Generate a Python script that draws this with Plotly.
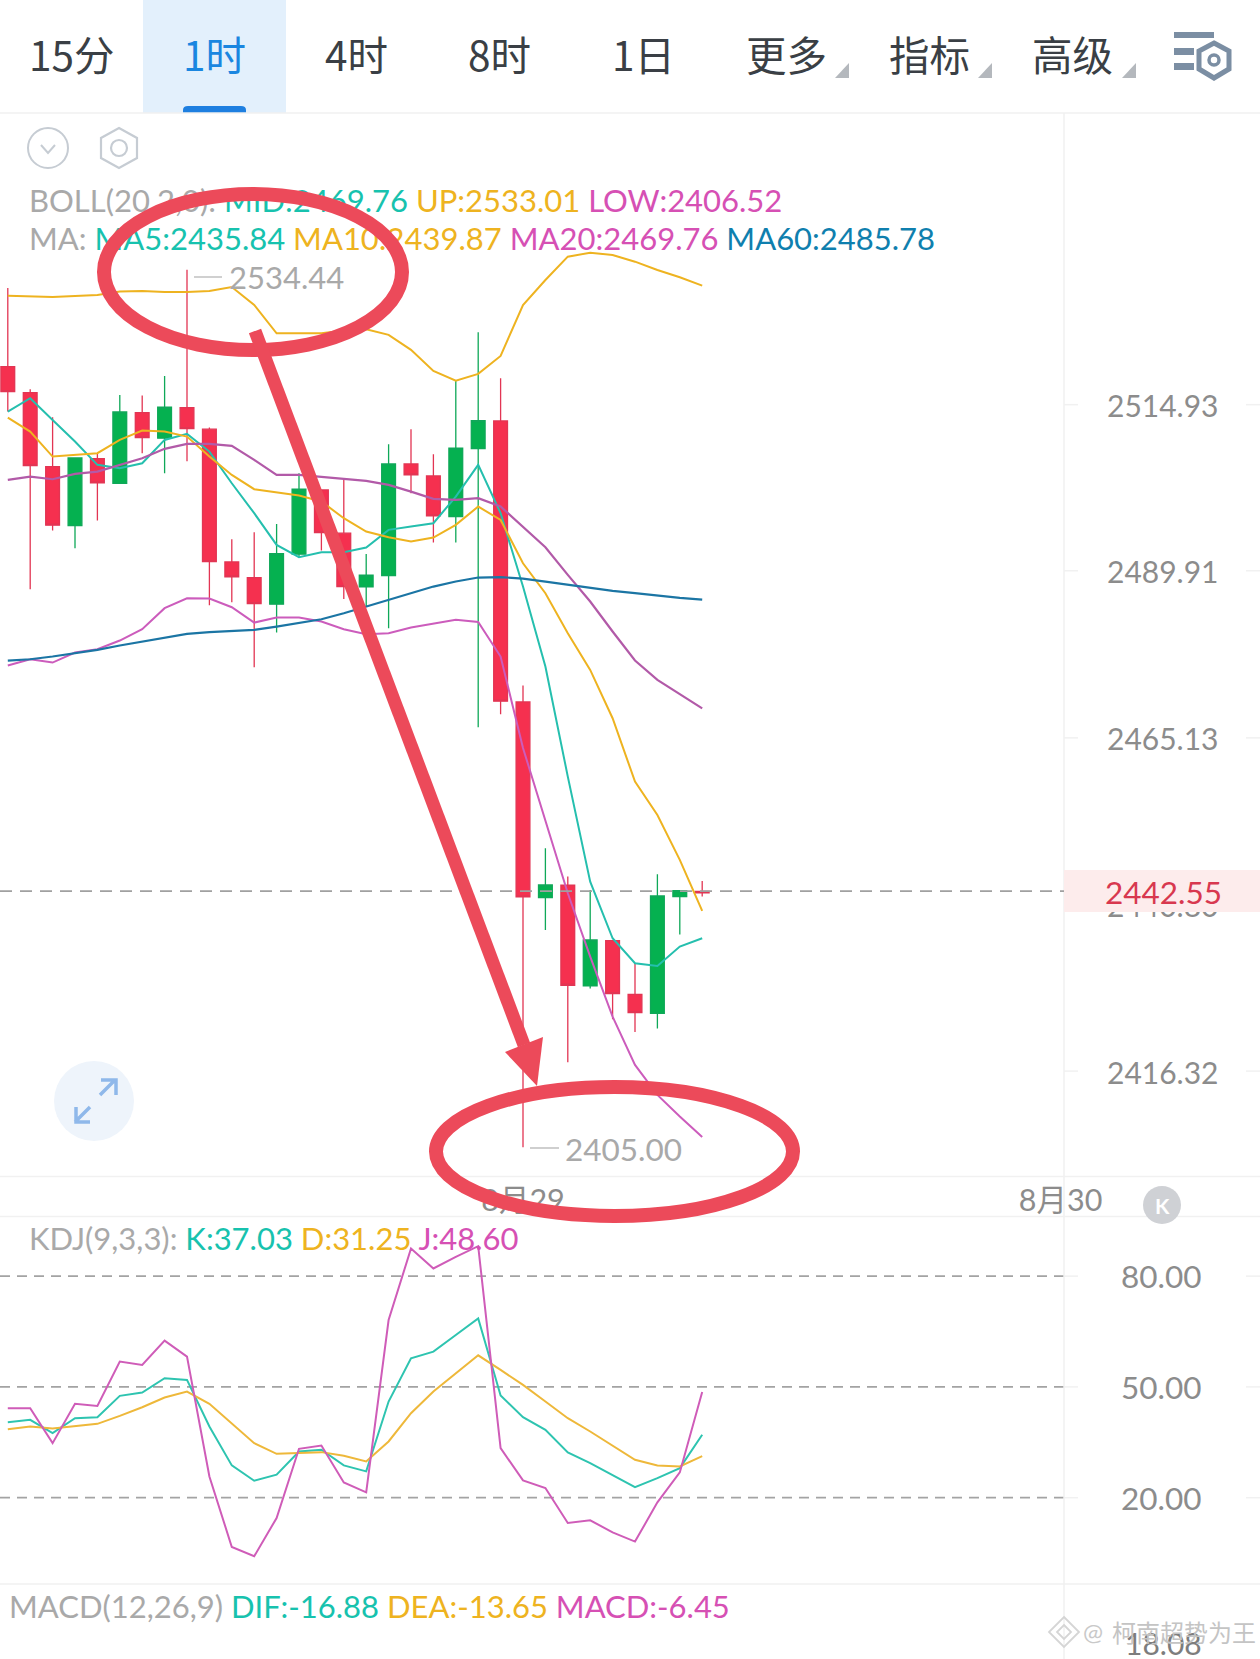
import plotly.graph_objects as go

W, H = 1260, 1659

# ---------- data ----------
opens = [2520.17,2516.33,2505.42,2496.72,2506.60,2502.96,2513.38,2509.60,2514.12,2510.93,2491.36,2489.05,2485.12,2492.49,2501.98,2495.59,
         2487.67,2489.34,2505.81,2504.04,2498.04,2508.07,2512.15,2470.71,2441.84,2443.66,2428.81,2435.50,2427.58,2424.78,2441.99,2442.75]
highs = [2531.77,2516.82,2512.70,2506.70,2507.29,2515.99,2515.89,2518.79,2534.44,2511.17,2494.70,2495.74,2496.96,2504.44,2501.98,2503.45,
         2492.54,2508.71,2510.93,2507.24,2518.10,2525.23,2518.45,2473.12,2449.12,2444.94,2442.97,2435.50,2432.16,2445.28,2442.97,2444.30]
lows = [2513.53,2487.33,2495.98,2493.37,2497.46,2502.96,2507.39,2504.44,2506.20,2484.97,2485.41,2475.83,2480.94,2492.15,2493.03,2485.90,
        2484.77,2481.58,2501.49,2494.21,2494.21,2466.97,2468.89,2405.00,2437.07,2417.56,2428.42,2423.90,2422.03,2422.52,2436.39,2441.99]
closes = [2516.48,2505.57,2496.77,2506.70,2503.01,2513.48,2509.70,2514.17,2511.02,2491.41,2489.15,2485.21,2492.59,2502.08,2495.69,2487.72,
          2489.39,2505.81,2504.19,2498.14,2508.12,2512.20,2470.81,2441.94,2443.71,2428.91,2435.60,2427.68,2424.88,2442.09,2442.87,2442.55]
ma5 = [2513.53,2515.50,2512.30,2509.11,2505.67,2505.17,2505.91,2509.35,2510.24,2507.63,2502.96,2498.54,2493.87,2492.05,2492.79,2492.79,
       2493.47,2496.08,2496.57,2497.06,2501.00,2505.67,2498.54,2487.72,2475.92,2459.69,2444.20,2435.84,2432.16,2431.76,2434.62,2435.84]
ma10 = [2512.65,2510.58,2506.89,2507.14,2507.39,2509.35,2510.73,2510.58,2509.84,2506.89,2504.19,2502.08,2501.63,2501.14,2500.26,2497.80,
        2495.83,2495.00,2494.36,2494.95,2496.82,2499.52,2497.55,2491.16,2486.74,2480.84,2475.43,2468.30,2458.95,2454.03,2447.40,2439.87]
ma20 = [2503.45,2503.94,2503.55,2504.34,2504.68,2505.67,2506.65,2508.03,2508.76,2508.76,2508.47,2506.40,2504.19,2504.19,2503.94,2503.60,
        2503.31,2502.72,2501.73,2500.65,2500.50,2500.75,2499.52,2496.57,2493.52,2489.44,2485.51,2481.09,2476.81,2473.96,2471.89,2469.76]
ma60 = [2476.81,2477.00,2477.40,2477.89,2478.38,2479.02,2479.61,2480.10,2480.74,2480.99,2481.14,2481.33,2481.82,2482.31,2482.90,2483.79,
        2484.77,2485.75,2486.74,2487.72,2488.46,2489.05,2489.10,2488.90,2488.46,2487.97,2487.48,2487.08,2486.74,2486.35,2486.05,2485.78]
boll_up = [2530.62,2530.51,2530.43,2530.58,2530.73,2531.24,2531.32,2531.17,2531.17,2531.32,2531.91,2529.26,2525.08,2525.08,2525.08,2525.48,
           2525.67,2524.84,2522.63,2519.53,2518.10,2519.09,2521.74,2529.25,2532.94,2536.38,2536.97,2536.63,2535.64,2534.42,2533.34,2532.10]
boll_low = [2476.07,2477.00,2476.51,2477.99,2478.48,2479.76,2481.43,2484.53,2486.00,2485.95,2484.67,2482.41,2483.15,2483.15,2482.56,2481.43,
            2480.69,2480.84,2481.68,2482.22,2482.81,2482.51,2477.40,2463.91,2453.30,2442.48,2433.14,2424.29,2417.16,2412.74,2409.55,2406.52]
kdj_k = [40.45,41.08,37.48,41.53,41.80,47.57,48.47,52.34,51.89,39.28,28.74,24.59,26.22,32.52,32.97,28.74,
         27.12,46.04,57.75,59.55,64.05,68.56,47.66,41.80,38.38,32.25,29.37,26.04,22.88,25.31,28.02,37.03]
kdj_d = [38.56,39.28,38.74,39.28,40.00,42.16,44.50,47.12,48.74,45.41,40.00,34.77,31.89,32.07,32.34,31.35,
         29.82,35.22,42.88,48.74,53.69,58.56,54.59,50.54,46.04,41.53,37.93,34.05,30.27,28.74,28.47,31.25]
kdj_j = [44.23,44.23,34.77,45.41,44.86,56.85,55.95,62.52,58.20,25.76,6.66,4.14,14.50,33.24,34.14,24.14,
         21.44,68.11,87.48,82.07,85.22,88.11,33.42,24.68,22.61,13.15,13.87,10.63,8.11,18.74,26.85,48.60]

bars = list(range(len(closes)))
price_ticks = [2514.55, 2490.05, 2465.40, 2440.80, 2416.25]
price_tick_text = ["2514.93", "2489.91", "2465.13", "2440.80", "2416.32"]
kdj_ticks = [80, 50, 20]
kdj_tick_text = ["80.00", "50.00", "20.00"]
date_ticks = [23, 47]
date_text = ["8月29", "8月30"]
tabs = ["15分", "1时", "4时", "8时", "1日", "更多", "指标", "高级"]
tab_x = [71, 214, 356, 499, 643, 786, 929, 1072]
last_line = 2442.80

# ---------- style ----------
FONT = "Lato, 'Noto Sans CJK SC', sans-serif"
CJK = "'Noto Sans CJK SC', sans-serif"
TEAL, GOLD, PINK, BLUE, GRAY = "#17c2ae", "#eeb320", "#d650b4", "#0f7fae", "#a9a9a9"
RED, GREEN, RINGRED = "#f5304f", "#05b150", "#ec4a5a"
LIGHT = "#f1f1f1"
XR = [-0.348, 55.902]


def span(c, t):
    return f'<span style="color:{c}">{t}</span>'


fig = go.Figure()
fig.add_trace(go.Candlestick(
    x=bars, open=opens, high=highs, low=lows, close=closes, xaxis="x", yaxis="y",
    increasing=dict(line=dict(color="#0fa858", width=1.3), fillcolor=GREEN),
    decreasing=dict(line=dict(color="#e23553", width=1.3), fillcolor=RED),
    whiskerwidth=0, hoverinfo="skip", showlegend=False))

for vals, col, wd in [(boll_up, GOLD, 2), (boll_low, "#cc5cbc", 2),
                      (ma5, "#25bfae", 2), (ma10, GOLD, 2), (ma20, "#b25aa8", 2.2), (ma60, "#1b75a4", 2.2)]:
    fig.add_trace(go.Scatter(x=bars, y=vals, mode="lines", line=dict(color=col, width=wd),
                             xaxis="x", yaxis="y", hoverinfo="skip", showlegend=False))
for vals, col in [(kdj_k, "#2ec4b0"), (kdj_d, "#eeb83a"), (kdj_j, "#cf5cb8")]:
    fig.add_trace(go.Scatter(x=bars, y=vals, mode="lines", line=dict(color=col, width=2),
                             xaxis="x2", yaxis="y2", hoverinfo="skip", showlegend=False))

legend_rows = [
    (29, 204, span(GRAY, "BOLL(20,2,0): ") + span(TEAL, "MID:2469.76 ") + span(GOLD, "UP:2533.01 ") + span(PINK, "LOW:2406.52")),
    (29, 242, span(GRAY, "MA: ") + span(TEAL, "MA5:2435.84 ") + span(GOLD, "MA10:2439.87 ") + span(PINK, "MA20:2469.76 ") + span(BLUE, "MA60:2485.78")),
    (29, 1242, span(GRAY, "KDJ(9,3,3): ") + span(TEAL, "K:37.03 ") + span(GOLD, "D:31.25 ") + span(PINK, "J:48.60")),
    (9, 1610, span(GRAY, "MACD(12,26,9) ") + span(TEAL, "DIF:-16.88 ") + span(GOLD, "DEA:-13.65 ") + span(PINK, "MACD:-6.45")),
]
fig.add_trace(go.Scatter(
    x=[r[0] for r in legend_rows], y=[r[1] for r in legend_rows], text=[r[2] for r in legend_rows],
    mode="text", textposition="middle right", textfont=dict(family=FONT, size=31, color=GRAY),
    xaxis="x3", yaxis="y3", hoverinfo="skip", showlegend=False, cliponaxis=False))

shapes = []


def box(x0, y0, x1, y1, fill, layer="below", rad=None):
    shapes.append(dict(type="rect", xref="x3", yref="y3", x0=x0, y0=y0, x1=x1, y1=y1,
                       fillcolor=fill, line=dict(width=0), layer=layer))


def seg(x0, y0, x1, y1, col=LIGHT, w=1.5, layer="below", dash=None, xref="x3", yref="y3"):
    line = dict(color=col, width=w)
    if dash:
        line["dash"] = dash
    shapes.append(dict(type="line", xref=xref, yref=yref, x0=x0, y0=y0, x1=x1, y1=y1, line=line, layer=layer))


def poly(path, fill=None, col=None, w=0, layer="above"):
    shapes.append(dict(type="path", xref="x3", yref="y3", path=path, fillcolor=fill or "rgba(0,0,0,0)",
                       line=dict(color=col or "rgba(0,0,0,0)", width=w), layer=layer))


def ring(x0, y0, x1, y1, col, w, fill=None, layer="above"):
    shapes.append(dict(type="circle", xref="x3", yref="y3", x0=x0, y0=y0, x1=x1, y1=y1,
                       line=dict(color=col, width=w), fillcolor=fill or "rgba(0,0,0,0)", layer=layer))


# header
box(143, 0, 286, 113, "#e3f0fc")
shapes.append(dict(type="path", xref="x3", yref="y3", path="M183,113 L183,110 Q183,106 188,106 L241,106 Q246,106 246,110 L246,113 Z",
                   fillcolor="#1e7fe0", line=dict(width=0), layer="below"))
for tx in (842, 985, 1129):
    poly(f"M{tx-7},78 L{tx+7},78 L{tx+7},63 Z", fill="#b4b8bd")
for x0, y0, x1, y1 in [(1174, 32, 1214, 38), (1174, 48, 1194, 55), (1174, 63, 1194, 70)]:
    box(x0, y0, x1, y1, "#7b8ea3", layer="above")
poly("M1214,43 L1229,51 L1229,69 L1214,78 L1199,69 L1199,51 Z", col="#7b8ea3", w=5)
ring(1209, 55, 1219, 65, "#7b8ea3", 3.5)

# separators
seg(0, 113, W, 113)
seg(0, 1176.5, W, 1176.5)
seg(0, 1216.5, W, 1216.5)
seg(0, 1584, W, 1584)
seg(1064, 113, 1064, H)

# side tick marks
for v in price_ticks:
    seg(1064, v, 1078, v, xref="x3", yref="y")
    seg(1246, v, W, v, xref="x3", yref="y")
for v in kdj_ticks:
    seg(0, v, 1064, v, col="#a3a3a3", w=1.8, dash="10px,7px", yref="y2")
    seg(1064, v, 1078, v, yref="y2")
    seg(1246, v, W, v, yref="y2")

# small icons
ring(28, 128, 68, 168, "#c6ccd3", 2)
poly("M41,145 L48,153 L55,145", col="#c6ccd3", w=2)
poly("M119,128 L137,138 L137,158 L119,168 L101,158 L101,138 Z", col="#c6ccd3", w=2.2)
ring(111, 140, 127, 156, "#c6ccd3", 2.2)

# expand button
ring(54, 1061, 134, 1141, "#eef4fb", 0, fill="#eef4fb", layer="below")
poly("M100,1095 L115,1080 M101,1080 L116,1080 L116,1095", col="#8fb8ea", w=3.5)
poly("M90,1107 L75,1122 M76,1107 L76,1122 L90,1122", col="#8fb8ea", w=3.5)

# K button
ring(1143, 1186, 1181, 1224, "#cfd1d5", 0, fill="#cfd1d5")

# last price
box(1064, 870, W, 912, "#fdecec", layer="above")
seg(0, last_line, 1064, last_line, col="#a0a0a0", w=1.9, dash="12px,8px", layer="above", yref="y")

# min / max leader dashes
seg(194, 277, 222, 277, col="#c4c4c4", w=1.6, layer="above")
seg(530, 1148, 559, 1148, col="#c4c4c4", w=1.6, layer="above")

# hand-drawn red marks
ring(104, 194, 402, 350, RINGRED, 14)
ring(436, 1087, 793, 1216, RINGRED, 14)
seg(255, 331, 524, 1045, col=RINGRED, w=13, layer="above")
poly("M505,1052 L543,1037 L537,1086 Z", fill=RINGRED)

# watermark logo
poly("M1064,1617 L1079,1632 L1064,1647 L1049,1632 Z", col="#d5d5d5", w=1.8)
poly("M1064,1625 L1071,1632 L1064,1639 L1057,1632 Z", col="#d5d5d5", w=1.8)

anns = []


def text(x, y, t, size=29, col="#8c8c8c", anchor="center", fam=FONT):
    anns.append(dict(xref="x3", yref="y3", x=x, y=y, text=t, showarrow=False, xanchor=anchor, yanchor="middle",
                     font=dict(family=fam, size=size, color=col)))


for t, x in zip(tabs, tab_x):
    text(x, 53, t, size=40.5, col="#1a86e0" if t == "1时" else "#3a3f45", fam=CJK)
text(227, 277, "2534.44", size=31, col="#a9a9a9", anchor="left")
text(563, 1149, "2405.00", size=31.5, col="#a9a9a9", anchor="left")
text(1163, 892, "2442.55", size=31.5, col="#d8384f")
text(1162, 1205, "<b>K</b>", size=21, col="#ffffff")
text(1163, 1643, "18.08", size=30, col="#7d7d7d")
text(1093, 1631, "@", size=24, col="#c9c9c9")
text(1110, 1631, "柯南超势为王", size=24, col="#c4c4c4", anchor="left", fam=CJK)

fig.update_layout(
    width=W, height=H, margin=dict(l=0, r=0, t=0, b=0), paper_bgcolor="#ffffff", plot_bgcolor="rgba(0,0,0,0)",
    showlegend=False, shapes=shapes, annotations=anns, boxgap=0.12,
    font=dict(family=FONT),
    xaxis=dict(domain=[0, 1], range=XR, anchor="y", rangeslider=dict(visible=False), showgrid=False, zeroline=False,
               showline=False, ticks="", tickmode="array", tickvals=date_ticks, ticktext=date_text, ticklabelstandoff=2,
               tickfont=dict(family=FONT, size=30.5, color="#8c8c8c"), fixedrange=True),
    yaxis=dict(domain=[1 - 1177 / H, 1 - 113 / H], range=[2400.63, 2557.57], anchor="free", position=1106 / W, side="right",
               showgrid=False, zeroline=False, showline=False, ticks="", tickmode="array", tickvals=price_ticks,
               ticktext=price_tick_text, ticklabelshift=2, tickfont=dict(family=FONT, size=30, color="#8c8c8c"), fixedrange=True),
    xaxis2=dict(domain=[0, 1], range=XR, anchor="y2", showgrid=False, zeroline=False, showline=False,
                showticklabels=False, ticks="", fixedrange=True),
    yaxis2=dict(domain=[1 - 1584 / H, 1 - 1217 / H], range=[-3.37, 96.01], anchor="free", position=1120 / W, side="right",
                showgrid=False, zeroline=False, showline=False, ticks="", tickmode="array", tickvals=kdj_ticks,
                ticktext=kdj_tick_text, ticklabelshift=1, tickfont=dict(family=FONT, size=31.5, color="#8c8c8c"), fixedrange=True),
    xaxis3=dict(domain=[0, 1], range=[0, W], anchor="y3", visible=False, fixedrange=True),
    yaxis3=dict(domain=[0, 1], range=[H, 0], anchor="x3", visible=False, fixedrange=True),
)

fig.write_html("out.html", config=dict(displayModeBar=False, responsive=False),
               post_script="document.body.style.margin='0';")
